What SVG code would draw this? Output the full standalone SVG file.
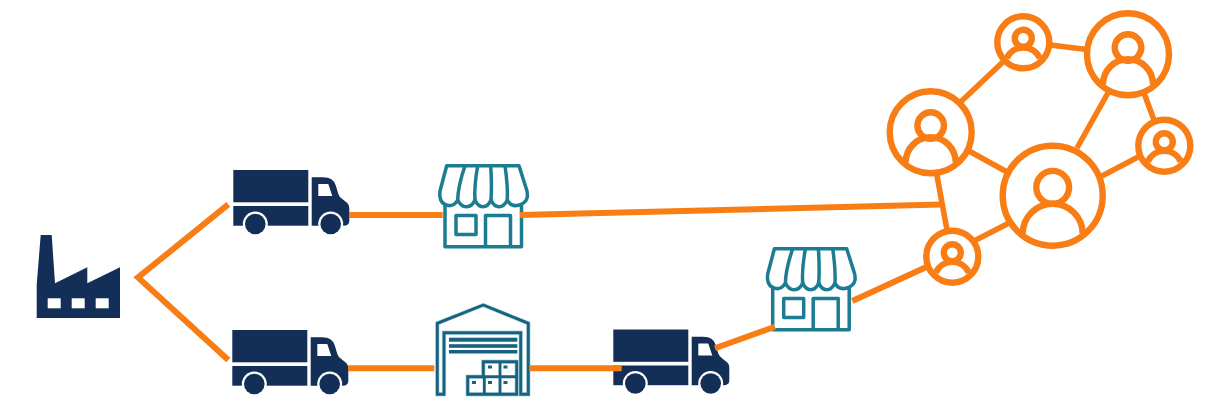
<svg xmlns="http://www.w3.org/2000/svg" width="1229" height="404" viewBox="0 0 1229 404">
<style>
.navy{fill:#132e57}
.hole{fill:#fff}
.store{fill:none;stroke:#1b7c92;stroke-width:3.5;stroke-linejoin:round}
.halo{fill:none;stroke:#b9dbe3;stroke-width:4.4}
.wh{fill:none;stroke:#17627f;stroke-width:2.9}
.whf{fill:#17627f}
.ring{fill:#fff;stroke:#f97d15;stroke-width:6.4}
.p{fill:none;stroke:#f97d15;stroke-width:6.4}
.link{fill:none;stroke:#f97d15;stroke-width:5.6}
.main{fill:none;stroke:#f97d15;stroke-width:6;stroke-linejoin:miter}
</style>
<defs>
<g id="truck">
<rect class="navy" x="0" y="0" width="75" height="32.3"/>
<rect class="navy" x="0" y="36" width="75" height="19.7"/>
<path class="navy" d="M78.4 7.3H90Q100 7.3 102.5 15.5L105 24Q106 27 109 29L114 33Q116 35 116 38V51Q116 55.7 110 55.7H78.4Z"/>
<path class="hole" d="M85 14H95L99 26H85Z"/>
<circle class="hole" cx="22" cy="54" r="12.5"/>
<circle class="navy" cx="22" cy="54" r="10.3"/>
<circle class="hole" cx="97.4" cy="54" r="12.5"/>
<circle class="navy" cx="97.4" cy="54" r="10.3"/>
</g>
<g id="shop" class="store">
<path d="M446.7 165.7H519L527 191Q527.6 195 527.3 197C526 205 512 210 507.3 200C503 209 495 209 491 200C487 209 479 209 475 200C471 209 462 209 457.7 200C452 210 441 205 440 197Q439.6 195 440 191Z"/>
<path d="M465 165.7Q458 186 457.7 200M477.7 165.7Q474 186 475 200M490.7 165.7Q492 186 491 200M505 165.7Q508 186 507.3 200"/>
<path d="M445 205V246.7H521.5V205"/>
<rect x="456" y="215.5" width="20" height="19"/>
<path d="M485.5 246.7V215.5H510.5V246.7"/>
</g>
<g id="person-l" class="p">
<circle cx="0" cy="-8.4" r="16.4"/>
<path d="M-30 38A30 30 0 0 1 30 38"/>
</g>
<g id="person-m" class="p">
<circle cx="0" cy="-6.7" r="13.3"/>
<path d="M-25 30A25 25 0 0 1 25 30"/>
</g>
<g id="person-s" class="p">
<circle cx="0" cy="-4" r="8.5"/>
<path d="M-16.5 16A18 18 0 0 1 16.5 16"/>
</g>
</defs>

<g id="factory">
<path class="navy" d="M40.7 235H51.7L55 283.3L87.3 267.3V283.3L120 267.3V318H36.7V285Z"/>
<rect class="hole" x="47.7" y="298.3" width="13" height="10"/>
<rect class="hole" x="71.7" y="298.3" width="13" height="10"/>
<rect class="hole" x="95.7" y="298.3" width="13" height="10"/>
</g>
<g id="truck-1"><use href="#truck" x="233.3" y="170"/></g>
<g id="truck-2"><use href="#truck" x="232.3" y="330"/></g>
<g id="truck-3"><use href="#truck" x="613.3" y="329.5"/></g>
<g id="store-1"><use href="#shop"/></g>
<g id="store-2"><use href="#shop" x="327.7" y="83"/></g>
<g id="warehouse">
<path class="halo" d="M437.3 394.3V323.3L483.3 305L528.3 323.3V394.3H520.7V332.7H444V394.3Z"/>
<path class="wh" d="M437.3 394.3V323.3L483.3 305L528.3 323.3V394.3H520.7V332.7H444V394.3Z"/>
<path class="halo" d="M483.3 378V361.7H516.7V394.3H467.7V376.7H484"/>
<path class="wh" d="M483.3 378V361.7H516.7V394.3H467.7V376.7H516.7M500 361.7V394.3M484.3 376.7V394.3"/>
<rect class="whf" x="449" y="337.7" width="68.3" height="4"/>
<rect class="whf" x="449" y="344.2" width="68.3" height="3.6"/>
<rect class="whf" x="449" y="350" width="68.3" height="3.5"/>
<rect class="whf" x="488" y="365.5" width="4" height="3"/>
<rect class="whf" x="503.5" y="365.5" width="4" height="3"/>
<rect class="whf" x="472" y="381" width="4" height="3"/>
<rect class="whf" x="488" y="381" width="4" height="3"/>
<rect class="whf" x="503.5" y="381" width="4" height="3"/>
</g>
<g id="person-top-small"><circle class="ring" cx="1023.3" cy="42.3" r="26"/><use href="#person-s" x="1023.3" y="42.3"/></g>
<g id="person-top-large"><circle class="ring" cx="1128" cy="54.3" r="41"/><use href="#person-m" x="1128" y="54.3"/></g>
<g id="person-left-large"><circle class="ring" cx="930.7" cy="132.3" r="41"/><use href="#person-m" x="930.7" y="132.3"/></g>
<g id="person-right-small"><circle class="ring" cx="1164.3" cy="145.7" r="26"/><use href="#person-s" x="1164.3" y="145.7"/></g>
<g id="person-center"><circle class="ring" cx="1052.7" cy="195.7" r="50"/><use href="#person-l" x="1052.7" y="195.7"/></g>
<g id="person-bottom-small"><circle class="ring" cx="952.3" cy="256.7" r="26"/><use href="#person-s" x="952.3" y="256.7"/></g>

<g id="connectors">
<path class="main" d="M228.3 204.3L138 277.5L228.3 360"/>
<path class="main" d="M349 215H442.7"/>
<path class="main" d="M520 215L941 204.5"/>
<path class="main" d="M348 368.3H434.3"/>
<path class="main" d="M529.3 368.3H621.7"/>
<path class="main" d="M715 348.3L775 326.7"/>
<path class="main" d="M852.3 301L927.5 266.5"/>
<path class="link" d="M960 102.5L1004 61"/>
<path class="link" d="M1050 45L1087 49.5"/>
<path class="link" d="M1109 91L1077 148"/>
<path class="link" d="M1144 93L1154 120"/>
<path class="link" d="M1100 177L1140 156"/>
<path class="link" d="M969 151L1008 172.5"/>
<path class="link" d="M936.5 173L947 230"/>
<path class="link" d="M974 241L1010 222.5"/>
</g>
</svg>
